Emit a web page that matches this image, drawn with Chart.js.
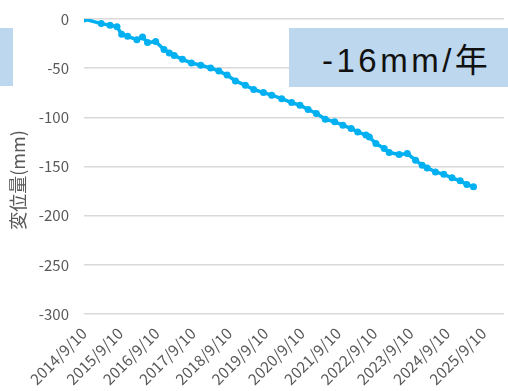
<!DOCTYPE html>
<html>
<head>
<meta charset="utf-8">
<script src="https://cdn.jsdelivr.net/npm/chart.js@4/dist/chart.umd.min.js"></script>
<style>
  body{margin:0;background:#fff;}
  #wrap{position:relative;width:508px;height:391px;overflow:hidden;}
  .box{position:absolute;background:#BDD7EE;}
  #rate{left:289px;top:28px;width:219px;height:59px;
    font:33px "Liberation Sans","Noto Sans CJK JP",sans-serif;color:#111;
    display:flex;align-items:center;padding-left:33px;box-sizing:border-box;letter-spacing:3.5px;white-space:nowrap;}
</style>
</head>
<body>
<div id="wrap">
  <canvas id="c"></canvas>
  <div class="box" style="left:0;top:28px;width:13px;height:58px"></div>
  <div class="box" id="rate">-16mm/年</div>
</div>
<script>
/* ===== データ ===== */
const START = '2014/9/10';
const tickLabels = ['2014/9/10','2015/9/10','2016/9/10','2017/9/10','2018/9/10','2019/9/10',
  '2020/9/10','2021/9/10','2022/9/10','2023/9/10','2024/9/10','2025/9/10'];
const dates = ['2014/9/10','2015/3/2','2015/5/30','2015/8/8','2015/9/24','2015/11/23','2016/2/24',
  '2016/4/21','2016/6/10','2016/8/31','2016/11/23','2017/1/15','2017/3/6','2017/5/28','2017/8/26',
  '2017/11/28','2018/3/7','2018/5/29','2018/8/20','2018/11/12','2019/2/20','2019/5/14','2019/8/21',
  '2019/11/12','2020/2/20','2020/5/30','2020/8/22','2020/11/12','2021/2/3','2021/5/4','2021/8/6',
  '2021/10/28','2022/1/19','2022/3/26','2022/6/17','2022/7/21','2022/9/25','2022/12/18','2023/2/6',
  '2023/5/17','2023/8/7','2023/10/29','2024/1/4','2024/2/23','2024/5/16','2024/8/8','2024/10/30',
  '2025/1/20','2025/3/28','2025/6/3'];
const disp = [0,-4.7,-6.4,-8,-15.5,-17.6,-21,-18.3,-24,-23,-31,-34.5,-37,-41,-44.7,-47,-49.8,-53,
  -57,-63,-67.4,-71.7,-74.8,-77.5,-81,-85,-87.7,-92,-96,-102,-104.6,-108,-111.4,-114.8,-118,-120,
  -126.6,-131.7,-135.8,-137.8,-136.8,-143.6,-148.7,-151.4,-155.5,-158,-161.5,-164.6,-168.3,-170.7,-174];
const Y_MIN = -300, Y_MAX = 0, Y_STEP = 50;
const X_END = '2026/4/6'; // 右端（切れている部分）

/* 日付 → 起点からの日数 */
const dayOf = s => { const [y,m,d] = s.split('/').map(Number); return Date.UTC(y,m-1,d)/864e5; };
const d0 = dayOf(START);
const toX = s => dayOf(s) - d0;

const points = dates.map((s,i)=>({x:toX(s), y:disp[i]}));
const tickPos = tickLabels.map(toX);

const FONT = '"Noto Sans CJK JP","Liberation Sans",sans-serif';
const GRAY = '#595959';

/* y軸タイトル（少し下寄りなので自前で描く） */
const yTitle = {
  id:'yTitle',
  afterDraw(c){
    const ctx = c.ctx;
    ctx.save();
    ctx.translate(18,180);
    ctx.rotate(-Math.PI/2);
    ctx.font = '18px '+FONT;
    ctx.fillStyle = GRAY;
    ctx.textAlign = 'center'; ctx.textBaseline = 'middle';
    ctx.fillText('変位量(mm)',0,0);
    ctx.restore();
  }
};

new Chart(document.getElementById('c'),{
  type:'line',
  data:{datasets:[{
    data:points, borderColor:'#00B0F0', backgroundColor:'#00B0F0', borderWidth:3.5,
    pointRadius:3.5, pointBorderWidth:0, pointBackgroundColor:'#00B0F0', tension:0
  }]},
  options:{
    responsive:true, maintainAspectRatio:false, animation:false,
    layout:{padding:{left:0,right:0,top:19,bottom:0}},
    plugins:{legend:{display:false}, tooltip:{enabled:false}},
    scales:{
      x:{
        type:'linear', min:0, max:toX(X_END),
        grid:{display:false}, border:{display:false},
        afterBuildTicks:s=>{ s.ticks = tickPos.map(v=>({value:v})); },
        afterFit:s=>{ s.height = 77; },
        ticks:{autoSkip:false, maxRotation:45, minRotation:45, color:GRAY,
          font:{family:FONT,size:15.5}, padding:2,
          callback:(v,i)=>tickLabels[i]}
      },
      y:{
        min:Y_MIN, max:Y_MAX,
        grid:{color:'#D9D9D9', lineWidth:1.5, drawTicks:false}, border:{display:false},
        afterFit:s=>{ s.width = 84; s.paddingTop = 0; s.paddingBottom = 0; },
        ticks:{stepSize:Y_STEP, color:GRAY, font:{family:FONT,size:15}, padding:15}
      }
    }
  },
  plugins:[yTitle]
});
</script>
</body>
</html>
